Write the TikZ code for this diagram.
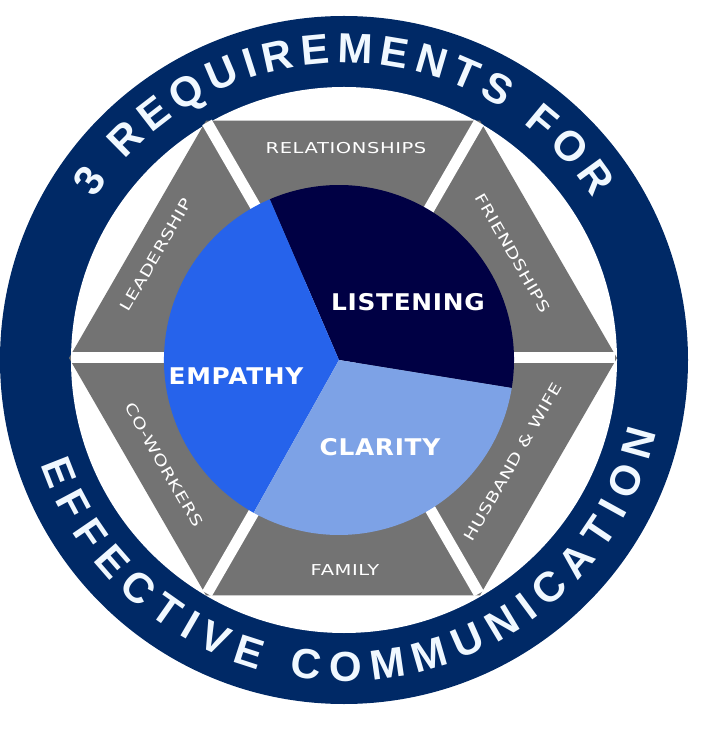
\documentclass[tikz,border=0pt]{standalone}
\usepackage{fontspec}
\usetikzlibrary{decorations.text}
\newfontfamily\ringfont{Liberation Sans}
\newfontfamily\wedgefont[FakeStretch=1.3,LetterSpace=4]{DejaVu Sans}
\newfontfamily\piefont[FakeStretch=1.08,LetterSpace=3]{DejaVu Sans}
\definecolor{ringnavy}{RGB}{0,41,102}
\definecolor{ringtext}{RGB}{240,248,255}
\definecolor{hexgray}{RGB}{115,115,115}
\definecolor{listencol}{RGB}{0,0,68}
\definecolor{empathycol}{RGB}{38,99,235}
\definecolor{claritycol}{RGB}{125,162,230}

\begin{document}
\begin{tikzpicture}[x=1pt,y=1pt,
  wedge/.style={text=white,inner sep=0pt,font=\wedgefont\fontsize{15}{15}\selectfont},
  slice/.style={text=white,inner sep=0pt,font=\piefont\bfseries\fontsize{23}{23}\selectfont},
  gap/.style={white,line width=11pt},
  ringtitle/.style={decorate,decoration={text along path,text align=fit to path,
    text color=ringtext,text={|\ringfont\bfseries\fontsize{42}{42}\selectfont|#1}}}]
\useasboundingbox (-344,-370) rectangle (373,360);
\coordinate (o) at (0,0);
\coordinate (hc) at (-1,2);
\coordinate (pc) at (-5,0);

% outer band
\fill[ringnavy] (o) circle[radius=344];
\fill[white] (o) circle[radius=273];
\path[ringtitle={3 REQUIREMENTS FOR}] (147:297) arc[start angle=147,end angle=33,radius=297];
\path[ringtitle={EFFECTIVE COMMUNICATION}] (199:321) arc[start angle=199,end angle=347,radius=321];

% hexagon
\fill[hexgray,shift={(hc)}] (0:274) -- (60:274) -- (120:274) -- (180:274) -- (240:274) -- (300:274) -- cycle;
\foreach \a in {0,60,...,300}
  \draw[gap] (hc) -- ++(\a:272);

% pie
\fill[listencol] (pc) -- ++(-9.2:175) arc[start angle=-9.2,end angle=113.3,radius=175] -- cycle;
\fill[empathycol] (pc) -- ++(113.3:175) arc[start angle=113.3,end angle=240.8,radius=175] -- cycle;
\fill[claritycol] (pc) -- ++(240.8:175) arc[start angle=240.8,end angle=350.8,radius=175] -- cycle;

\node[slice] (listening) at (64,58) {LISTENING};
\node[slice] (empathy) at (-108,-16) {EMPATHY};
\node[slice] (clarity) at (36,-87) {CLARITY};

\node[wedge] (relationships) at (2,212) {RELATIONSHIPS};
\node[wedge,rotate=-60] (friendships) at (169,107) {FRIENDSHIPS};
\node[wedge,rotate=60] (husbandwife) at (169,-102) {HUSBAND \& WIFE};
\node[wedge] (family) at (1,-210) {FAMILY};
\node[wedge,rotate=-60] (coworkers) at (-180,-105) {CO-WORKERS};
\node[wedge,rotate=60] (leadership) at (-188,105) {LEADERSHIP};
\end{tikzpicture}
\end{document}
